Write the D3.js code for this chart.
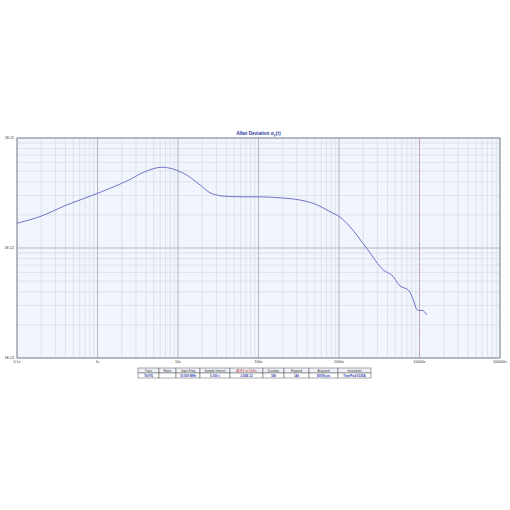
<!DOCTYPE html>
<html>
<head>
<meta charset="utf-8">
<script src="https://cdn.jsdelivr.net/npm/d3@7"></script>
<style>
  body { margin: 0; background: #fff; }
  svg { font-family: "Liberation Sans", Arial, sans-serif; }
</style>
</head>
<body>
<div class="chart"></div>
<script>
var width = 510,
    height = 510;

// tau (s) and Allan deviation
var tau = [0.1, 0.193, 0.414, 1.0, 2.41, 3.38, 4.93, 6.27, 8.74, 12.8, 18.8, 25, 33.3, 58.9, 104, 185, 328, 504, 773, 1028, 1370, 2210, 3550, 4520, 5730, 7260, 8380, 9400, 11150, 12300];
var adev = [1.68e-12, 1.93e-12, 2.46e-12, 3.14e-12, 4.12e-12, 4.71e-12, 5.26e-12, 5.42e-12, 5.22e-12, 4.61e-12, 3.74e-12, 3.18e-12, 2.99e-12, 2.92e-12, 2.92e-12, 2.86e-12, 2.73e-12, 2.51e-12, 2.14e-12, 1.91e-12, 1.56e-12, 9.93e-13, 6.31e-13, 5.69e-13, 4.52e-13, 4.15e-13, 3.37e-13, 2.73e-13, 2.69e-13, 2.46e-13];

var xTicks = [0.1, 1, 10, 100, 1000, 10000, 100000];
var xTickLabels = ["0.1s", "1s", "10s", "100s", "1000s", "10000s", "100000s"];
var yTicks = [1e-13, 1e-12, 1e-11];
var yTickLabels = ["1E-13", "1E-12", "1E-11"];
var markerTau = 10000;

var tableHeaders = ["Trace", "Notes", "Input Freq", "Sample Interval", "ADEV at 1000s", "Duration", "Elapsed", "Acquired", "Instrument"];
var tableValues = ["76r7f5", "", "10.000 MHz", "0.100 s", "2.02E-12", "14h", "14h", "50000 pts", "TimePod 5330A"];
var colEdges = [138, 159, 176, 200, 230, 263, 284, 309, 338, 371];

var plotL = 17, plotR = 500, plotT = 138, plotB = 358;

var svg = d3.select(".chart").append("svg")
    .attr("width", width)
    .attr("height", height);

var x = d3.scaleLog().domain([0.1, 100000]).range([plotL, plotR]);
var y = d3.scaleLog().domain([1e-13, 1e-11]).range([plotB, plotT]);

svg.append("rect")
    .attr("x", plotL).attr("y", plotT)
    .attr("width", plotR - plotL).attr("height", plotB - plotT)
    .attr("fill", "#f1f5fd");

// minor gridlines
var xMinor = [], yMinor = [];
xTicks.slice(0, -1).forEach(function(t) {
  for (var k = 2; k <= 9; k++) xMinor.push(t * k);
});
yTicks.slice(0, -1).forEach(function(t) {
  for (var k = 2; k <= 9; k++) yMinor.push(t * k);
});

var grid = svg.append("g");
grid.selectAll(".xminor").data(xMinor).enter().append("line")
    .attr("x1", function(d) { return x(d); }).attr("x2", function(d) { return x(d); })
    .attr("y1", plotT).attr("y2", plotB)
    .attr("stroke", "#d8dde6").attr("stroke-width", 0.8);
grid.selectAll(".yminor").data(yMinor).enter().append("line")
    .attr("y1", function(d) { return y(d); }).attr("y2", function(d) { return y(d); })
    .attr("x1", plotL).attr("x2", plotR)
    .attr("stroke", "#d8dde6").attr("stroke-width", 0.8);
grid.selectAll(".xmajor").data(xTicks).enter().append("line")
    .attr("x1", function(d) { return x(d); }).attr("x2", function(d) { return x(d); })
    .attr("y1", plotT).attr("y2", plotB)
    .attr("stroke", "#a6abb3").attr("stroke-width", 0.8);
grid.selectAll(".ymajor").data(yTicks).enter().append("line")
    .attr("y1", function(d) { return y(d); }).attr("y2", function(d) { return y(d); })
    .attr("x1", plotL).attr("x2", plotR)
    .attr("stroke", "#a6abb3").attr("stroke-width", 0.8);

svg.append("line")
    .attr("x1", x(markerTau)).attr("x2", x(markerTau))
    .attr("y1", plotT).attr("y2", plotB)
    .attr("stroke", "#d4909e").attr("stroke-width", 0.8)
    .attr("stroke-dasharray", "3,2");

svg.append("rect")
    .attr("x", plotL).attr("y", plotT)
    .attr("width", plotR - plotL).attr("height", plotB - plotT)
    .attr("fill", "none").attr("stroke", "#8f949c").attr("stroke-width", 1);

// axis labels
svg.selectAll(".xlab").data(xTicks).enter().append("text")
    .attr("x", function(d) { return x(d); })
    .attr("y", plotB + 5)
    .attr("text-anchor", "middle")
    .attr("font-size", 3.6).attr("fill", "#333")
    .text(function(d, i) { return xTickLabels[i]; });
svg.selectAll(".ylab").data(yTicks).enter().append("text")
    .attr("x", plotL - 3)
    .attr("y", function(d) { return y(d) + 1; })
    .attr("text-anchor", "end")
    .attr("font-size", 3.6).attr("fill", "#333")
    .text(function(d, i) { return yTickLabels[i]; });

var title = svg.append("text")
    .attr("x", (plotL + plotR) / 2).attr("y", plotT - 3.5)
    .attr("text-anchor", "middle")
    .attr("font-size", 4.6).attr("font-weight", "bold").attr("fill", "#2a3a9a");
title.append("tspan").text("Allan Deviation σ");
title.append("tspan").attr("font-size", 3.4).attr("dy", 1.2).text("y");
title.append("tspan").attr("dy", -1.2).text("(τ)");

// curve
var pts = tau.map(function(t, i) { return [t, adev[i]]; });
var line = d3.line()
    .x(function(d) { return x(d[0]); })
    .y(function(d) { return y(d[1]); })
    .curve(d3.curveCatmullRom.alpha(0.5));
svg.append("path")
    .datum(pts)
    .attr("d", line)
    .attr("fill", "none")
    .attr("stroke", "#6262c4")
    .attr("stroke-width", 0.9);

// table
var tTop = 368, rowH = 5;
var table = svg.append("g");
tableHeaders.forEach(function(h, i) {
  var x0 = colEdges[i], x1 = colEdges[i + 1];
  table.append("rect")
      .attr("x", x0).attr("y", tTop).attr("width", x1 - x0).attr("height", rowH)
      .attr("fill", "#eef1f8").attr("stroke", "#555").attr("stroke-width", 0.5);
  table.append("rect")
      .attr("x", x0).attr("y", tTop + rowH).attr("width", x1 - x0).attr("height", rowH)
      .attr("fill", "#fff").attr("stroke", "#555").attr("stroke-width", 0.5);
  table.append("text")
      .attr("x", (x0 + x1) / 2).attr("y", tTop + 3.7)
      .attr("text-anchor", "middle").attr("font-size", 3)
      .attr("fill", i === 4 ? "#c03030" : "#333")
      .text(h);
  table.append("text")
      .attr("x", (x0 + x1) / 2).attr("y", tTop + rowH + 3.7)
      .attr("text-anchor", "middle").attr("font-size", 3)
      .attr("font-weight", "bold")
      .attr("fill", "#2a3ab0")
      .text(tableValues[i]);
});
</script>
</body>
</html>
